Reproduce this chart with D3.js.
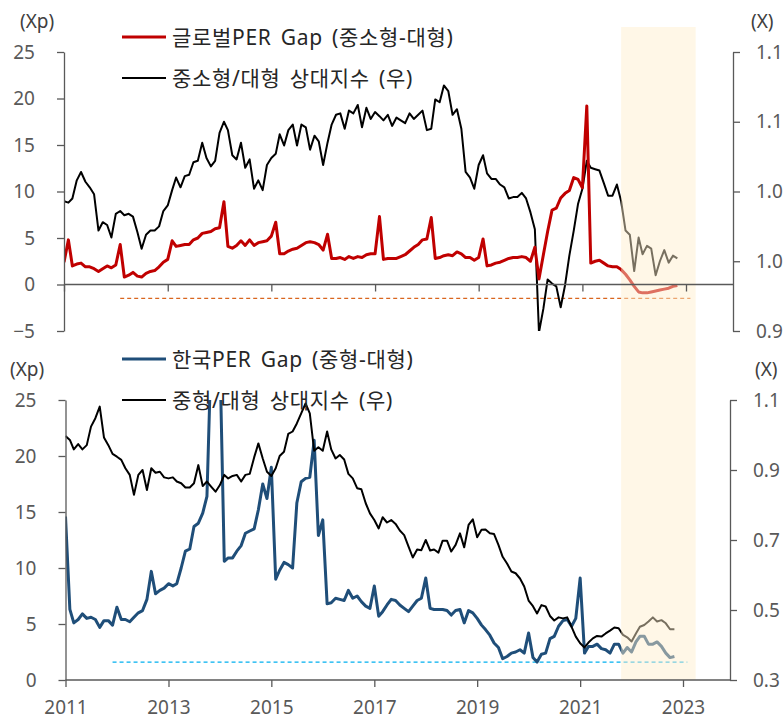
<!DOCTYPE html>
<html>
<head>
<meta charset="utf-8">
<script src="https://cdn.jsdelivr.net/npm/d3@7/dist/d3.min.js"></script>
<style>
  body { margin: 0; background: #fff; }
  svg { display: block; }
</style>
</head>
<body>
<script>
(function() {
  'use strict';

  var width = 784, height = 722;

  // monthly, Jan 2011 .. Nov 2022
  var months = d3.timeMonth.range(new Date(2011, 0, 1), new Date(2022, 11, 1));

  // top panel: global PER gap (small/mid - large), Xp, left axis
  var globalGap = [
    2.4, 4.8, 2.0, 2.2, 2.3, 1.9, 1.9, 1.7, 1.4, 1.7,
    2.0, 1.8, 2.1, 4.3, 0.8, 1.0, 1.3, 0.9, 0.8, 1.2,
    1.4, 1.5, 1.9, 2.4, 2.7, 4.7, 4.1, 4.2, 4.3, 4.3,
    4.8, 5.0, 5.5, 5.6, 5.7, 6.0, 6.1, 8.9, 4.1, 3.9,
    4.2, 4.7, 4.2, 4.8, 4.2, 4.5, 4.6, 4.7, 5.2, 6.7,
    3.3, 3.3, 3.6, 3.8, 3.9, 4.2, 4.5, 4.6, 4.5, 4.3,
    3.7, 5.4, 2.8, 2.8, 2.9, 2.7, 3.0, 2.8, 3.0, 2.9,
    3.2, 3.3, 3.3, 7.3, 2.7, 2.8, 2.8, 2.8, 3.0, 3.2,
    3.6, 4.0, 4.3, 4.8, 4.9, 7.2, 2.8, 2.9, 3.1, 3.2,
    3.1, 3.5, 3.3, 2.9, 2.9, 2.6, 2.9, 4.9, 2.0, 2.1,
    2.3, 2.4, 2.6, 2.8, 2.9, 2.9, 3.0, 2.9, 2.5, 4.0,
    0.6, 3.2, 5.7, 8.0, 8.2, 9.3, 9.8, 10.1, 11.5, 11.3,
    10.4, 19.2, 2.3, 2.5, 2.6, 2.3, 2.0, 1.9, 1.9, 1.6,
    1.1, 0.5, -0.2, -0.8, -0.9, -0.9, -0.8, -0.7, -0.6, -0.5,
    -0.4, -0.2, -0.1
  ];

  // top panel: small-mid / large relative index, X, right axis
  var smallLargeIdx = [
    1.043, 1.042, 1.045, 1.058, 1.064, 1.057, 1.053, 1.048, 1.022, 1.028,
    1.026, 1.017, 1.034, 1.036, 1.033, 1.034, 1.032, 1.021, 1.009, 1.019,
    1.022, 1.022, 1.025, 1.036, 1.040, 1.051, 1.060, 1.053, 1.061, 1.062,
    1.071, 1.072, 1.085, 1.074, 1.068, 1.072, 1.092, 1.100, 1.094, 1.076,
    1.073, 1.085, 1.067, 1.073, 1.052, 1.058, 1.051, 1.069, 1.074, 1.077,
    1.091, 1.083, 1.094, 1.098, 1.083, 1.098, 1.096, 1.080, 1.090, 1.086,
    1.069, 1.085, 1.098, 1.105, 1.106, 1.095, 1.108, 1.106, 1.112, 1.096,
    1.110, 1.102, 1.107, 1.104, 1.101, 1.105, 1.097, 1.103, 1.101, 1.099,
    1.106, 1.102, 1.105, 1.108, 1.094, 1.095, 1.116, 1.114, 1.126, 1.122,
    1.105, 1.109, 1.095, 1.064, 1.060, 1.052, 1.069, 1.076, 1.063, 1.059,
    1.059, 1.055, 1.053, 1.045, 1.046, 1.046, 1.049, 1.045, 1.035, 1.023,
    0.949, 0.966, 0.987, 0.984, 0.982, 0.967, 0.983, 1.004, 1.022, 1.041,
    1.052, 1.072, 1.067, 1.066, 1.065, 1.056, 1.047, 1.047, 1.055, 1.043,
    1.022, 1.019, 0.993, 1.017, 1.005, 1.011, 1.009, 0.990, 1.000, 1.008,
    0.999, 1.004, 1.002
  ];

  // bottom panel: Korea PER gap (mid - large), Xp, left axis
  var koreaGap = [
    14.6, 6.3, 5.1, 5.4, 5.9, 5.5, 5.6, 5.4, 4.7, 5.3,
    5.3, 4.9, 6.5, 5.4, 5.4, 5.2, 5.6, 6.0, 6.2, 7.2,
    9.7, 7.7, 8.0, 8.2, 8.6, 8.4, 8.6, 10.0, 11.5, 11.7,
    13.7, 14.0, 14.9, 16.4, 30.0, 31.0, 29.0, 10.6, 10.9, 10.9,
    11.5, 12.0, 13.1, 13.3, 13.5, 15.2, 17.5, 16.2, 19.0, 9.0,
    9.8, 10.5, 10.3, 10.0, 15.8, 17.7, 18.0, 18.1, 21.4, 12.9,
    14.3, 6.8, 6.9, 7.3, 7.2, 7.1, 8.0, 7.3, 7.5, 7.0,
    6.6, 6.4, 8.4, 5.7, 6.1, 6.7, 7.2, 7.1, 6.7, 6.4,
    6.1, 6.6, 7.1, 7.3, 9.1, 6.4, 6.3, 6.3, 6.3, 6.2,
    5.8, 6.2, 6.3, 5.1, 6.2, 6.0, 5.5, 4.9, 4.5, 4.0,
    3.3, 2.9, 1.9, 2.1, 2.4, 2.5, 2.7, 2.4, 4.2, 2.0,
    1.6, 2.3, 2.4, 3.7, 3.9, 4.8, 5.3, 5.4, 4.8, 5.5,
    9.1, 2.4, 3.0, 3.0, 3.2, 2.8, 2.7, 2.4, 3.2, 3.2,
    2.4, 2.9, 2.5, 3.4, 3.9, 3.9, 3.2, 3.2, 3.4, 3.0,
    2.4, 2.0, 2.1
  ];

  // bottom panel: mid / large relative index, X, right axis
  var midLargeIdx = [
    0.997, 0.986, 0.959, 0.974, 0.959, 0.971, 1.024, 1.048, 1.081, 0.993,
    0.971, 0.946, 0.938, 0.929, 0.905, 0.886, 0.829, 0.886, 0.900, 0.843,
    0.905, 0.892, 0.895, 0.879, 0.876, 0.879, 0.867, 0.862, 0.850, 0.850,
    0.862, 0.914, 0.854, 0.867, 0.852, 0.838, 0.857, 0.886, 0.876, 0.883,
    0.886, 0.867, 0.886, 0.889, 0.936, 0.976, 0.933, 0.895, 0.883, 0.905,
    0.940, 0.952, 1.003, 1.010, 1.033, 1.062, 1.090, 1.062, 0.955, 0.965,
    0.955, 1.010, 0.959, 0.933, 0.943, 0.930, 0.889, 0.876, 0.848, 0.845,
    0.805, 0.776, 0.757, 0.733, 0.765, 0.750, 0.757, 0.746, 0.727, 0.714,
    0.681, 0.650, 0.673, 0.671, 0.700, 0.670, 0.673, 0.664, 0.698, 0.698,
    0.667, 0.686, 0.719, 0.679, 0.743, 0.759, 0.708, 0.729, 0.730, 0.719,
    0.717, 0.686, 0.652, 0.633, 0.610, 0.605, 0.590, 0.567, 0.527, 0.511,
    0.490, 0.514, 0.510, 0.483, 0.470, 0.479, 0.476, 0.479, 0.452, 0.424,
    0.405, 0.393, 0.407, 0.419, 0.426, 0.424, 0.433, 0.441, 0.450, 0.448,
    0.429, 0.422, 0.410, 0.433, 0.452, 0.457, 0.467, 0.479, 0.467, 0.471,
    0.462, 0.445, 0.445
  ];

  // dashed reference levels
  var topRef = [{date: new Date(2012, 1, 1), v: -1.5}, {date: new Date(2023, 1, 1), v: -1.5}];
  var bottomRef = [{date: new Date(2011, 11, 1), v: 1.6}, {date: new Date(2023, 1, 1), v: 1.6}];

  // forecast shading period
  var shadeStart = new Date(2021, 9, 1),
      shadeEnd = new Date(2023, 2, 10);

  var yearTicks = [2011, 2013, 2015, 2017, 2019, 2021, 2023].map(function(y) { return new Date(y, 0, 1); });

  var topLeftTicks = [-5, 0, 5, 10, 15, 20, 25],
      topRightTicks = [0.95, 1.00, 1.05, 1.10, 1.15],
      botLeftTicks = [0, 5, 10, 15, 20, 25],
      botRightTicks = [0.3, 0.5, 0.7, 0.9, 1.1];

  var legendTop = ['글로벌PER Gap (중소형-대형)', '중소형/대형 상대지수 (우)'],
      legendBot = ['한국PER Gap (중형-대형)', '중형/대형 상대지수 (우)'];

  var axisColor = '#595959',
      labelFont = '"Noto Sans", "Open Sans", sans-serif',
      korFont = '"Noto Sans", "Noto Sans CJK KR", sans-serif';

  var svg = d3.select('body').append('svg')
      .attr('width', width)
      .attr('height', height);

  // ---------- scales ----------
  var xTop = d3.scaleTime().domain([new Date(2011, 0, 1), new Date(2023, 0, 1)]).range([64, 686]),
      xBot = d3.scaleTime().domain([new Date(2011, 0, 1), new Date(2023, 0, 1)]).range([65.5, 683]);

  var yTopL = d3.scaleLinear().domain([-5, 25]).range([331, 52]),
      yTopR = d3.scaleLinear().domain([0.95, 1.15]).range([331, 52]),
      yBotL = d3.scaleLinear().domain([0, 25]).range([680, 400]),
      yBotR = d3.scaleLinear().domain([0.3, 1.1]).range([680, 400]);

  var topPlot = {x0: 64, x1: 733, y0: 52, y1: 331},
      botPlot = {x0: 65.5, x1: 730, y0: 400, y1: 680};

  var defs = svg.append('defs');
  defs.append('clipPath').attr('id', 'clipTop').append('rect')
      .attr('x', topPlot.x0).attr('y', topPlot.y0)
      .attr('width', topPlot.x1 - topPlot.x0).attr('height', topPlot.y1 - topPlot.y0);
  defs.append('clipPath').attr('id', 'clipBot').append('rect')
      .attr('x', botPlot.x0).attr('y', botPlot.y0)
      .attr('width', botPlot.x1 - botPlot.x0).attr('height', botPlot.y1 - botPlot.y0);

  function series(vals) {
    return vals.map(function(v, i) { return {date: months[i], v: v}; });
  }

  function lineGen(x, y) {
    return d3.line().x(function(d) { return x(d.date); }).y(function(d) { return y(d.v); });
  }

  // ---------- top panel lines ----------
  var gTop = svg.append('g').attr('clip-path', 'url(#clipTop)');

  gTop.append('path').datum(topRef)
      .attr('d', lineGen(xTop, yTopL))
      .attr('fill', 'none').attr('stroke', '#d9661f')
      .attr('stroke-width', 1.2).attr('stroke-dasharray', '4,3');

  gTop.append('path').datum(series(smallLargeIdx))
      .attr('d', lineGen(xTop, yTopR))
      .attr('fill', 'none').attr('stroke', '#000')
      .attr('stroke-width', 2).attr('stroke-linejoin', 'round');

  gTop.append('path').datum(series(globalGap))
      .attr('d', lineGen(xTop, yTopL))
      .attr('fill', 'none').attr('stroke', '#c00000')
      .attr('stroke-width', 3).attr('stroke-linejoin', 'round');

  // ---------- bottom panel lines ----------
  var gBot = svg.append('g').attr('clip-path', 'url(#clipBot)');

  gBot.append('path').datum(bottomRef)
      .attr('d', lineGen(xBot, yBotL))
      .attr('fill', 'none').attr('stroke', '#00b0f0')
      .attr('stroke-width', 1.2).attr('stroke-dasharray', '4,3');

  gBot.append('path').datum(series(koreaGap))
      .attr('d', lineGen(xBot, yBotL))
      .attr('fill', 'none').attr('stroke', '#1f4e79')
      .attr('stroke-width', 3).attr('stroke-linejoin', 'round');

  gBot.append('path').datum(series(midLargeIdx))
      .attr('d', lineGen(xBot, yBotR))
      .attr('fill', 'none').attr('stroke', '#000')
      .attr('stroke-width', 2).attr('stroke-linejoin', 'round');

  // ---------- shaded band (semi transparent, on top of lines) ----------
  svg.append('rect')
      .attr('x', xTop(shadeStart))
      .attr('y', 27)
      .attr('width', xTop(shadeEnd) - xTop(shadeStart))
      .attr('height', 680 - 27)
      .attr('fill', 'rgb(255,238,204)')
      .attr('fill-opacity', 0.47);

  // ---------- axes ----------
  function styleAxis(g) {
    g.select('.domain').attr('stroke', axisColor).attr('stroke-width', 1.3);
    g.selectAll('.tick line').attr('stroke', axisColor).attr('stroke-width', 1.3);
    g.selectAll('.tick text').attr('fill', axisColor)
      .style('font-family', labelFont).style('font-size', '19px');
  }

  // the top right labels are shown cut to one decimal
  var oneDecimalDown = function(v) { return (Math.floor(v * 10 + 1e-6) / 10).toFixed(1); };

  svg.append('g').attr('transform', 'translate(' + topPlot.x0 + ',0)')
      .call(d3.axisLeft(yTopL).tickValues(topLeftTicks).tickSize(7).tickSizeOuter(0).tickPadding(22))
      .call(styleAxis);

  svg.append('g').attr('transform', 'translate(' + topPlot.x1 + ',0)')
      .call(d3.axisRight(yTopR).tickValues(topRightTicks).tickFormat(oneDecimalDown)
        .tickSize(7).tickSizeOuter(0).tickPadding(16))
      .call(styleAxis);

  svg.append('line')
      .attr('x1', topPlot.x0).attr('x2', topPlot.x1)
      .attr('y1', yTopL(0)).attr('y2', yTopL(0))
      .attr('stroke', axisColor).attr('stroke-width', 1.3);

  svg.append('g').attr('transform', 'translate(0,' + yTopL(0) + ')')
      .call(d3.axisBottom(xTop).tickValues(yearTicks).tickFormat('').tickSize(7).tickSizeOuter(0))
      .call(styleAxis)
      .select('.domain').remove();

  svg.append('g').attr('transform', 'translate(' + botPlot.x0 + ',0)')
      .call(d3.axisLeft(yBotL).tickValues(botLeftTicks).tickSize(7).tickSizeOuter(0).tickPadding(22))
      .call(styleAxis);

  svg.append('g').attr('transform', 'translate(' + botPlot.x1 + ',0)')
      .call(d3.axisRight(yBotR).tickValues(botRightTicks).tickFormat(d3.format('.1f'))
        .tickSize(7).tickSizeOuter(0).tickPadding(16))
      .call(styleAxis);

  svg.append('line')
      .attr('x1', botPlot.x0).attr('x2', botPlot.x1)
      .attr('y1', botPlot.y1).attr('y2', botPlot.y1)
      .attr('stroke', axisColor).attr('stroke-width', 1.3);

  svg.append('g').attr('transform', 'translate(0,' + botPlot.y1 + ')')
      .call(d3.axisBottom(xBot).tickValues(yearTicks).tickFormat(d3.timeFormat('%Y'))
        .tickSize(7).tickSizeOuter(0).tickPadding(14))
      .call(styleAxis)
      .select('.domain').remove();

  // ---------- unit labels ----------
  var units = [
    {t: '(Xp)', x: 20, y: 21},
    {t: '(X)', x: 751, y: 21},
    {t: '(Xp)', x: 10, y: 369},
    {t: '(X)', x: 755, y: 369}
  ];
  svg.selectAll('text.unit').data(units).enter().append('text')
      .attr('class', 'unit')
      .attr('x', function(d) { return d.x; })
      .attr('y', function(d) { return d.y; })
      .attr('dy', '0.35em')
      .attr('fill', '#404040')
      .style('font-family', labelFont).style('font-size', '19px')
      .text(function(d) { return d.t; });

  // ---------- legends ----------
  function legend(items, colors, widths, y0) {
    var g = svg.append('g');
    items.forEach(function(label, i) {
      var y = y0 + i * 41;
      g.append('line')
        .attr('x1', 122).attr('x2', 166).attr('y1', y).attr('y2', y)
        .attr('stroke', colors[i]).attr('stroke-width', widths[i]);
      g.append('text')
        .attr('x', 172).attr('y', y).attr('dy', '0.36em')
        .attr('fill', '#262626')
        .style('font-family', korFont).style('font-size', '21px')
        .style('letter-spacing', '0.7px').style('word-spacing', '3px')
        .text(label);
    });
  }

  legend(legendTop, ['#c00000', '#000'], [3, 2], 37);
  legend(legendBot, ['#1f4e79', '#000'], [3, 2], 359);

})();
</script>
</body>
</html>
